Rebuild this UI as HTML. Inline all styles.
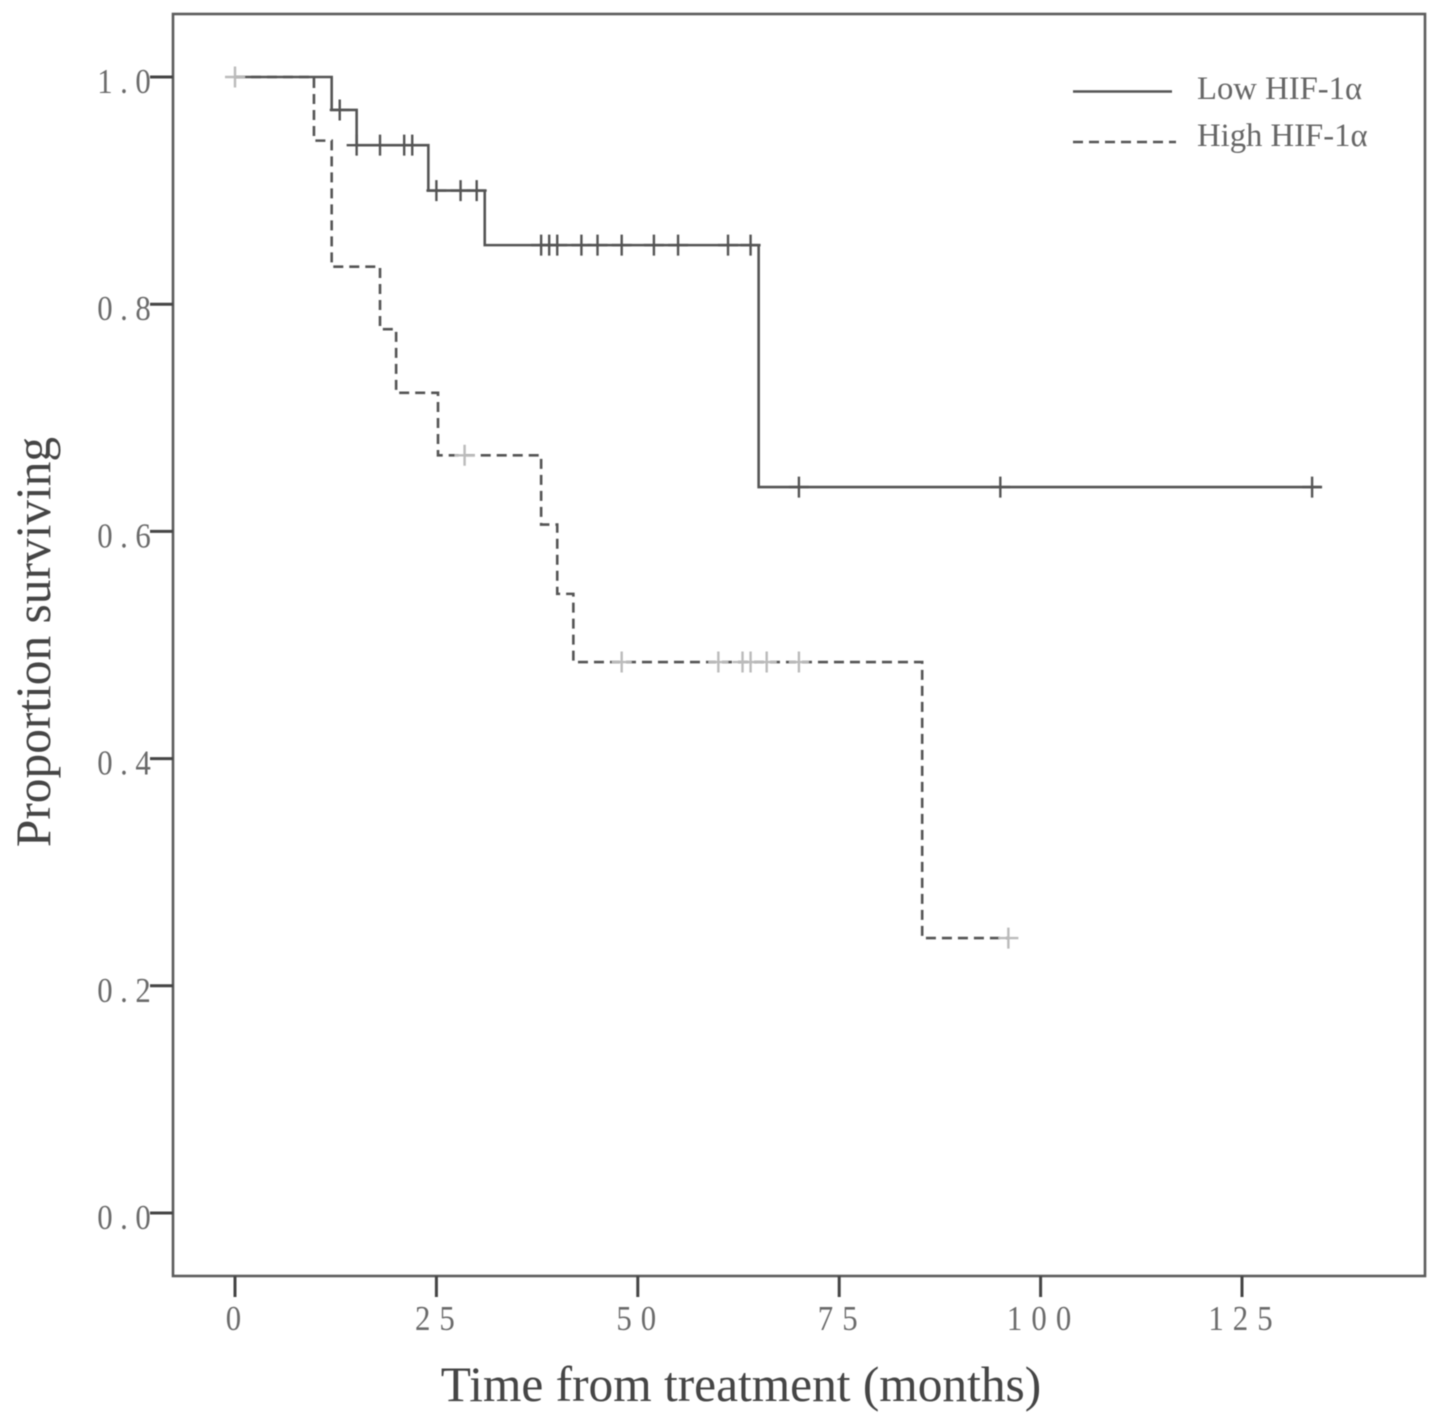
<!DOCTYPE html>
<html lang="en">
<head>
<meta charset="utf-8">
<title>Kaplan-Meier survival by HIF-1α expression</title>
<style>
  html, body { margin: 0; padding: 0; background: #fff; }
  svg { display: block; }
  text { font-family: "Liberation Serif", serif; }
</style>
</head>
<body>
<svg id="chart" xmlns="http://www.w3.org/2000/svg" width="1441" height="1426" viewBox="0 0 1441 1426">
  <defs>
    <filter id="soft" x="-5%" y="-5%" width="110%" height="110%"><feGaussianBlur stdDeviation="0.5"/></filter>
  </defs>
  <g id="root" filter="url(#soft)">
    <rect x="173" y="14" width="1252" height="1262" fill="none" stroke="#5c5c5c" stroke-width="2.6"/>
    <g id="ticks"></g>
    <g id="series"></g>
    <g>
      <line x1="1073" y1="91.5" x2="1172" y2="91.5" stroke="#555" stroke-width="2.6"/>
      <line x1="1073" y1="142" x2="1176" y2="142" stroke="#555" stroke-width="2.6" stroke-dasharray="10 6"/>
      <text x="1197" y="99" font-size="32.7" fill="#666">Low HIF-1α</text>
      <text x="1197" y="146" font-size="32.7" fill="#666">High HIF-1α</text>
    </g>
    <text x="741" y="1401" font-size="49.4" fill="#444" text-anchor="middle">Time from treatment (months)</text>
    <text transform="translate(50 642) rotate(-90)" font-size="49.4" fill="#444" text-anchor="middle">Proportion surviving</text>
  </g>
</svg>
<script>
const xTickValues = [0, 25, 50, 75, 100, 125];
const xTickLabels = ["0", "25", "50", "75", "100", "125"];
const yTickValues = [0, 0.2, 0.4, 0.6, 0.8, 1.0];
const yTickLabels = ["0.0", "0.2", "0.4", "0.6", "0.8", "1.0"];

const lowTimes = [0, 12, 15.1, 24, 31, 65, 134.9];
const lowSurvival = [1, 0.971, 0.94, 0.9, 0.852, 0.639, 0.639];
const lowCensored = [13, 15.1, 18, 21, 22, 25, 28, 30, 38, 39, 40, 43, 45, 48, 52, 55, 61.2, 64, 70, 95, 133.7];

const highTimes = [0, 9.8, 12, 18, 20, 25.2, 38, 40, 42, 85.3, 96];
const highSurvival = [1, 0.944, 0.833, 0.778, 0.722, 0.667, 0.606, 0.545, 0.485, 0.242, 0.242];
const highCensored = [0, 28.5, 48, 60, 63, 64, 66, 70, 96];

const NS = "http://www.w3.org/2000/svg";
const xScale = function (t) { return 235 + t * 8.056; };
const yScale = function (s) { return 1213 - s * 1136; };

function make(tag, attrs, parent) {
  const el = document.createElementNS(NS, tag);
  for (const k in attrs) el.setAttribute(k, attrs[k]);
  parent.appendChild(el);
  return el;
}

function survivalAt(times, surv, t) {
  let value = surv[0];
  for (let i = 0; i < times.length; i++) {
    if (times[i] <= t) value = surv[i];
  }
  return value;
}

function stepPath(times, surv) {
  let d = "M" + xScale(times[0]) + " " + yScale(surv[0]);
  for (let i = 1; i < times.length; i++) {
    d += "H" + xScale(times[i]) + "V" + yScale(surv[i]);
  }
  return d;
}

const ticks = document.getElementById("ticks");
xTickValues.forEach(function (v, i) {
  const tick = make("line", { x1: xScale(v), x2: xScale(v), y1: 1276, y2: 1297, stroke: "#444", "stroke-width": 3 }, ticks);
  
  
  const label = make("text", { transform: "translate(" + (xScale(v) + 3) + " 1330) scale(0.88 1)", "font-size": 35, fill: "#6a6a6a", "text-anchor": "middle", "letter-spacing": 10.3 }, ticks);
  label.textContent = xTickLabels[i];
  
  
});
yTickValues.forEach(function (v, i) {
  const tick = make("line", { x1: 150, x2: 173, y1: yScale(v), y2: yScale(v), stroke: "#444", "stroke-width": 3 }, ticks);
  
  
  const label = make("text", { transform: "translate(97.3 " + (yScale(v) + 16) + ") scale(0.88 1)", "font-size": 35, fill: "#6a6a6a", "letter-spacing": 8.5 }, ticks);
  label.textContent = yTickLabels[i];
  
  
});

const series = document.getElementById("series");

const lowLine = make("path", { d: stepPath(lowTimes, lowSurvival), fill: "none", stroke: "#555", "stroke-width": 2.6 }, series);



const highLine = make("path", { d: stepPath(highTimes, highSurvival), fill: "none", stroke: "#555", "stroke-width": 2.6, "stroke-dasharray": "10 6" }, series);



function drawCensor(t, s, color, width) {
  const cx = xScale(t);
  const cy = yScale(s);
  const mark = make("path", { d: "M" + (cx - 10) + " " + cy + "H" + (cx + 10) + "M" + cx + " " + (cy - 10.5) + "V" + (cy + 10.5), fill: "none", stroke: color, "stroke-width": width }, series);
  return mark;
}

lowCensored.forEach(function (t) {
  const mark = drawCensor(t, survivalAt(lowTimes, lowSurvival, t), "#555", 2.4);
  
  
});
highCensored.forEach(function (t) {
  const mark = drawCensor(t, survivalAt(highTimes, highSurvival, t), "#bbb", 2.4);
  
  
});
</script>
</body>
</html>
